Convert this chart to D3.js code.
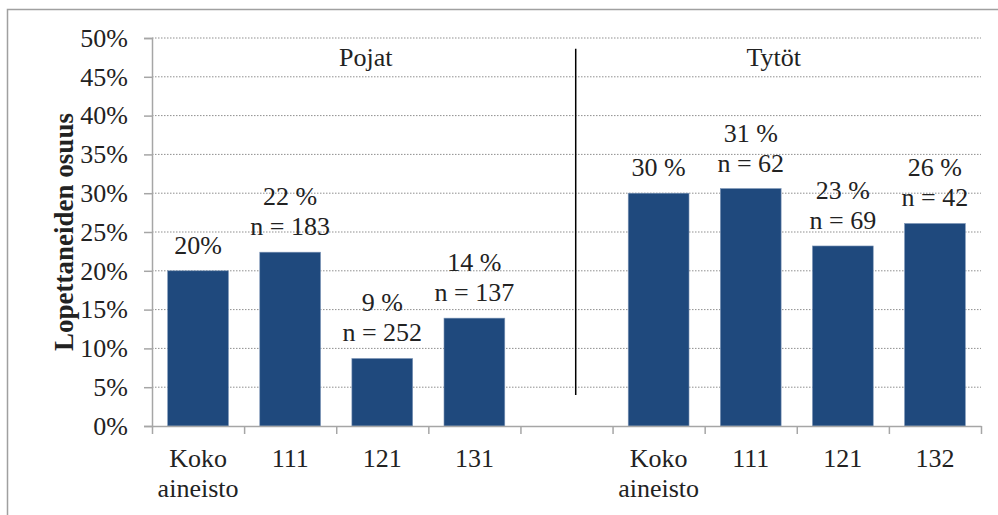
<!DOCTYPE html>
<html lang="fi">
<head>
<meta charset="utf-8">
<script src="https://d3js.org/d3.v7.min.js"></script>
<style>
body { margin: 0; background: #fff; }
.grid line { stroke: #8f8f8f; stroke-dasharray: 1.5,1.5; }
.axis path, .axis line { stroke: #a6a6a6; stroke-width: 1.5; }
</style>
</head>
<body>
<svg width="998" height="515"></svg>
<script>
// data
var categories = ["Koko aineisto", "111", "121", "131", "", "Koko aineisto", "111", "121", "132"];
var values = [20, 22.4, 8.7, 13.9, null, 30, 30.6, 23.2, 26.1];
var valueLabels = [["20%"], ["22 %", "n = 183"], ["9 %", "n = 252"], ["14 %", "n = 137"], [],
                   ["30 %"], ["31 %", "n = 62"], ["23 %", "n = 69"], ["26 %", "n = 42"]];
var yTicks = [0, 5, 10, 15, 20, 25, 30, 35, 40, 45, 50];
var groups = ["Pojat", "Tytöt"];

var FONT = "'Liberation Serif', 'Times New Roman', Times, serif";

var svg = d3.select("svg"),
    margin = {left: 152, right: 17, top: 38, bottom: 89},
    width = 998 - margin.left - margin.right,
    height = 515 - margin.top - margin.bottom;

// outer frame (right/bottom edges fall outside the picture)
svg.append("rect")
    .attr("x", 7.5).attr("y", 9.5)
    .attr("width", 1000).attr("height", 520)
    .attr("fill", "none").attr("stroke", "#a0a0a0").attr("stroke-width", 1.5);

var g = svg.append("g").attr("transform", "translate(" + margin.left + "," + margin.top + ")");

var y = d3.scaleLinear().domain([0, 50]).range([height, 0]);
var idx = d3.range(categories.length);
var x = d3.scaleBand().domain(idx).range([0, width]).paddingInner(0.34).paddingOuter(0.17);
var xEdge = d3.scaleLinear().domain([0, categories.length]).range([0, width]);

// gridlines
g.append("g").attr("class", "grid")
  .selectAll("line")
  .data(yTicks.filter(function(d) { return d > 0; }))
  .enter().append("line")
    .attr("x1", 0).attr("x2", width)
    .attr("y1", function(d) { return y(d); })
    .attr("y2", function(d) { return y(d); });

// bars
g.selectAll(".bar")
  .data(idx.filter(function(i) { return values[i] != null; }))
  .enter().append("rect")
    .attr("class", "bar")
    .attr("x", function(i) { return x(i); })
    .attr("width", x.bandwidth())
    .attr("y", function(i) { return y(values[i]); })
    .attr("height", function(i) { return height - y(values[i]); })
    .attr("fill", "#1f497d")
    .attr("stroke", "#7f97b8").attr("stroke-width", 0.6);

// y axis
var yAxis = g.append("g").attr("class", "axis")
    .call(d3.axisLeft(y).tickValues(yTicks).tickSize(8).tickPadding(16)
      .tickFormat(function(d) { return d + "%"; }));
yAxis.selectAll("text")
    .style("font-family", FONT).style("font-size", "26px").attr("fill", "#222");

// x axis: ticks on category edges
g.append("g").attr("class", "axis")
    .attr("transform", "translate(0," + height + ")")
    .call(d3.axisBottom(xEdge).tickValues(d3.range(categories.length + 1)).tickSize(8).tickSizeOuter(0).tickFormat(""));

function lbl(sel) {
  sel.style("font-family", FONT).style("font-size", "26px").attr("fill", "#222").attr("text-anchor", "middle");
}

// category labels
var cl = g.append("g").selectAll("text")
  .data(idx)
  .enter().append("text")
    .call(lbl)
    .attr("transform", function(i) { return "translate(" + (x(i) + x.bandwidth() / 2) + "," + (height + 41) + ")"; });
cl.selectAll("tspan")
  .data(function(i) { return categories[i] ? categories[i].split(" ") : []; })
  .enter().append("tspan")
    .attr("x", 0)
    .attr("y", function(d, k) { return k * 30; })
    .text(function(d) { return d; });

// value labels
var vl = g.append("g").selectAll("text")
  .data(idx.filter(function(i) { return values[i] != null; }))
  .enter().append("text")
    .call(lbl)
    .attr("transform", function(i) { return "translate(" + (x(i) + x.bandwidth() / 2) + "," + (y(values[i]) - 17) + ")"; });
vl.selectAll("tspan")
  .data(function(i) { return valueLabels[i]; })
  .enter().append("tspan")
    .attr("x", 0)
    .attr("y", function(d, k, arr) { return (k - arr.length + 1) * 30; })
    .text(function(d) { return d; });

// group titles and divider
var groupPos = [2.32, 6.75];
g.selectAll(".grp")
  .data(groups)
  .enter().append("text")
    .call(lbl)
    .attr("x", function(d, k) { return xEdge(groupPos[k]); })
    .attr("y", y(46.4))
    .text(function(d) { return d; });

g.append("line")
    .attr("x1", xEdge(4.6)).attr("x2", xEdge(4.6))
    .attr("y1", y(48.6)).attr("y2", y(4))
    .attr("stroke", "#000").attr("stroke-width", 1.5);

// y title
svg.append("text")
    .attr("transform", "translate(73," + (margin.top + height / 2) + ") rotate(-90)")
    .call(lbl)
    .style("font-size", "27px")
    .attr("font-weight", "bold")
    .text("Lopettaneiden osuus");
</script>
</body>
</html>
